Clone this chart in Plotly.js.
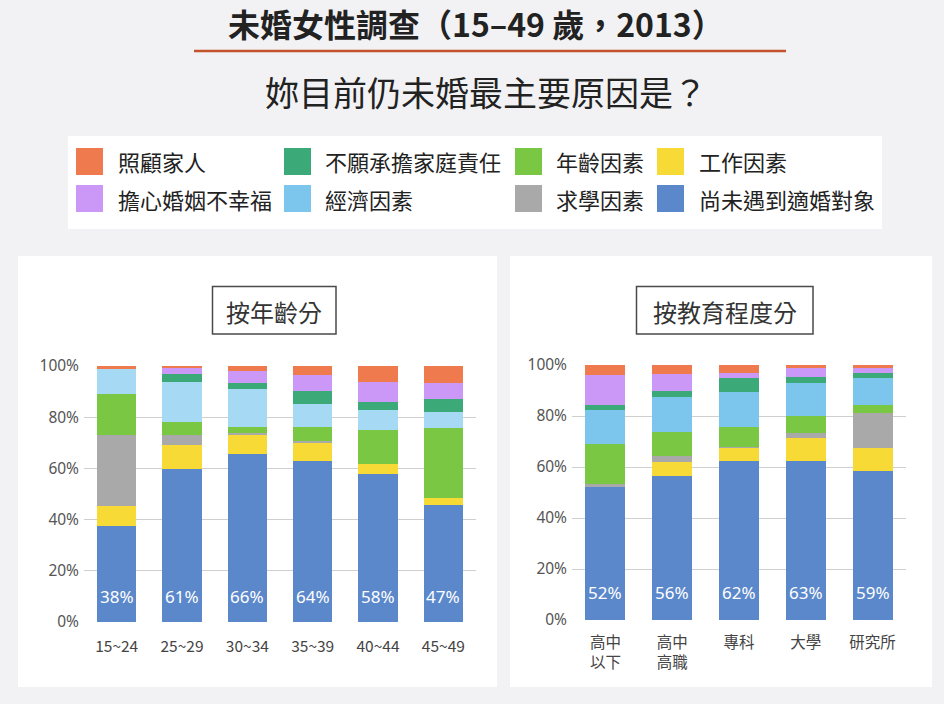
<!DOCTYPE html>
<html><head><meta charset="utf-8">
<script src="https://cdn.plot.ly/plotly-3.0.1.min.js"></script>
<style>html,body{margin:0;padding:0;background:#f2f2f4;}#chart{width:944px;height:704px;}</style>
</head><body><div id="chart"></div>
<script>
// ---- data ----
const ageCats = ['15~24','25~29','30~34','35~39','40~44','45~49'];
const eduCats = ['高中<br>以下','高中<br>高職','專科','大學','研究所'];
// stacking order bottom -> top
const seriesNames = ['尚未遇到適婚對象','工作因素','求學因素','年齡因素','經濟因素','不願承擔家庭責任','擔心婚姻不幸福','照顧家人'];
const ageBlue   = [37.4, 59.8, 65.6, 62.8, 57.8, 45.9];
const ageYellow = [7.8, 9.4, 7.4, 7.3, 3.9, 2.6];
const ageGray   = [27.8, 3.9, 1.0, 0.5, 0, 0];
const ageGreen  = [15.9, 5.2, 2.2, 5.6, 13.3, 27.1];
const ageEcon   = [9.8, 15.6, 15.0, 9.1, 7.8, 6.5];
const ageTeal   = [0, 2.9, 2.0, 4.8, 3.3, 5.2];
const agePurple = [0, 2.3, 5.0, 6.5, 7.8, 5.9];
const ageOrange = [1.3, 0.9, 1.8, 3.3, 6.1, 6.8];
const ageLabels = ['38%','61%','66%','64%','58%','47%'];

const eduBlue   = [52.3, 56.5, 62.5, 62.5, 58.5];
const eduYellow = [0, 5.4, 4.8, 9.0, 8.9];
const eduGray   = [0.9, 2.6, 0.7, 2.0, 13.7];
const eduGreen  = [15.7, 9.1, 7.6, 6.5, 3.3];
const eduEcon   = [13.4, 13.7, 13.7, 13.1, 10.4];
const eduTeal   = [2.2, 2.5, 5.5, 2.3, 2.0];
const eduPurple = [11.7, 6.5, 2.0, 3.5, 2.0];
const eduOrange = [3.7, 3.7, 3.3, 1.0, 1.3];
const eduLabels = ['52%','56%','62%','63%','59%'];

const legendOrder = ['照顧家人','不願承擔家庭責任','年齡因素','工作因素','擔心婚姻不幸福','經濟因素','求學因素','尚未遇到適婚對象'];
const yTicks = [0,20,40,60,80,100];
const yTickText = ['0%','20%','40%','60%','80%','100%'];

// ---- styles ----
const colors = {
  '尚未遇到適婚對象':'#5b88cb','工作因素':'#f8da36','求學因素':'#a9a9a9','年齡因素':'#79c743',
  '經濟因素':'#7cc6ee','不願承擔家庭責任':'#3caa78','擔心婚姻不幸福':'#cb98f8','照顧家人':'#ee7a4e'
};
const leftEconColor = '#a5d9f4';
const CJK = '"Noto Sans CJK TC", "Noto Sans", sans-serif';
const W = 944, H = 704;
const px = x => x / W, py = y => 1 - y / H;

const ageSeries = [ageBlue, ageYellow, ageGray, ageGreen, ageEcon, ageTeal, agePurple, ageOrange];
const eduSeries = [eduBlue, eduYellow, eduGray, eduGreen, eduEcon, eduTeal, eduPurple, eduOrange];

const traces = [];
seriesNames.forEach((n, i) => {
  traces.push({type:'bar', x: ageCats, y: ageSeries[i], name: n, xaxis:'x', yaxis:'y', showlegend:false,
    marker:{color: n==='經濟因素' ? leftEconColor : colors[n], line:{width:0}}, hoverinfo:'x+y+name'});
});
seriesNames.forEach((n, i) => {
  traces.push({type:'bar', x: eduCats, y: eduSeries[i], name: n, xaxis:'x2', yaxis:'y2', showlegend:false,
    marker:{color: colors[n], line:{width:0}}, hoverinfo:'x+y+name'});
});

const shapes = [
  {type:'line', xref:'paper', yref:'paper', x0:px(194), x1:px(786), y0:py(51), y1:py(51), line:{color:'#c4532c', width:2.5}},
  {type:'rect', xref:'paper', yref:'paper', x0:px(68), x1:px(882), y0:py(136), y1:py(229), fillcolor:'#ffffff', line:{width:0}, layer:'below'},
  {type:'rect', xref:'paper', yref:'paper', x0:px(18), x1:px(497), y0:py(256), y1:py(687), fillcolor:'#ffffff', line:{width:0}, layer:'below'},
  {type:'rect', xref:'paper', yref:'paper', x0:px(510), x1:px(932), y0:py(256), y1:py(687), fillcolor:'#ffffff', line:{width:0}, layer:'below'},
  {type:'rect', xref:'paper', yref:'paper', x0:px(212.5), x1:px(336), y0:py(286.5), y1:py(334), fillcolor:'rgba(0,0,0,0)', line:{color:'#4a4a4a', width:1.5}},
  {type:'rect', xref:'paper', yref:'paper', x0:px(636.5), x1:px(813), y0:py(286.5), y1:py(334), fillcolor:'rgba(0,0,0,0)', line:{color:'#4a4a4a', width:1.5}}
];

const annotations = [
  {text:'<b>未婚女性調查（15–49 歲，2013）</b>', xref:'paper', yref:'paper', x:px(476), y:py(23), xanchor:'center', yanchor:'middle', showarrow:false,
   font:{family:CJK, size:32, color:'#222222'}},
  {text:'妳目前仍未婚最主要原因是？', xref:'paper', yref:'paper', x:px(486), y:py(92), xanchor:'center', yanchor:'middle', showarrow:false,
   font:{family:CJK, size:34, color:'#222222'}},
  {text:'按年齡分', xref:'paper', yref:'paper', x:px(274), y:py(311), xanchor:'center', yanchor:'middle', showarrow:false,
   font:{family:CJK, size:24, color:'#333333'}},
  {text:'按教育程度分', xref:'paper', yref:'paper', x:px(725), y:py(311), xanchor:'center', yanchor:'middle', showarrow:false,
   font:{family:CJK, size:24, color:'#333333'}}
];

const swX = [76, 284, 515, 657], txX = [116, 323, 554, 697], rowY = [161.5, 198.5];
legendOrder.forEach((n, k) => {
  const c = k % 4, r = Math.floor(k / 4);
  shapes.push({type:'rect', xref:'paper', yref:'paper', x0:px(swX[c]), x1:px(swX[c]+27), y0:py(rowY[r]-13.5), y1:py(rowY[r]+13.5),
    fillcolor: colors[n], line:{width:0}});
  annotations.push({text:n, xref:'paper', yref:'paper', x:px(txX[c]), y:py(rowY[r]), xanchor:'left', yanchor:'middle', showarrow:false,
    font:{family:CJK, size:22, color:'#222222'}});
});

ageCats.forEach((c, i) => annotations.push({text:ageLabels[i], xref:'x', yref:'y', x:c, y:0, yanchor:'bottom', yshift:12, showarrow:false,
  font:{family:'"Noto Sans", sans-serif', size:17, color:'#ffffff'}}));
eduCats.forEach((c, i) => annotations.push({text:eduLabels[i], xref:'x2', yref:'y2', x:c, y:0, yanchor:'bottom', yshift:14, showarrow:false,
  font:{family:'"Noto Sans", sans-serif', size:17, color:'#ffffff'}}));

const yAx = (dom) => ({domain: dom, range:[0,100], tickmode:'array', tickvals: yTicks, ticktext: yTickText, showgrid:true, gridcolor:'#cfcfcf', gridwidth:1,
  zeroline:false, showline:false, ticks:'', ticklabelstandoff:4, fixedrange:true,
  tickfont:{family:'"Noto Sans", sans-serif', size:15.5, color:'#555555'}});
const xAx = (dom, so) => ({domain: dom, showgrid:false, zeroline:false, showline:false, ticks:'', fixedrange:true,
  tickfont:{family:CJK, size:15.5, color:'#444444'}, ticklabelstandoff:so});

const layout = {
  width: W, height: H, margin:{l:0, r:0, t:0, b:0},
  paper_bgcolor:'#f2f2f4', plot_bgcolor:'rgba(0,0,0,0)',
  barmode:'stack', bargap:0.4,
  xaxis: Object.assign(xAx([px(84), px(476)], 13), {anchor:'y'}),
  yaxis: Object.assign(yAx([py(622), py(366)]), {anchor:'x'}),
  xaxis2: Object.assign(xAx([px(572), px(906)], 11), {anchor:'y2'}),
  yaxis2: Object.assign(yAx([py(620), py(365)]), {anchor:'x2'}),
  shapes: shapes, annotations: annotations, showlegend:false
};

Plotly.newPlot('chart', traces, layout, {displayModeBar:false, staticPlot:true});
</script></body></html>
